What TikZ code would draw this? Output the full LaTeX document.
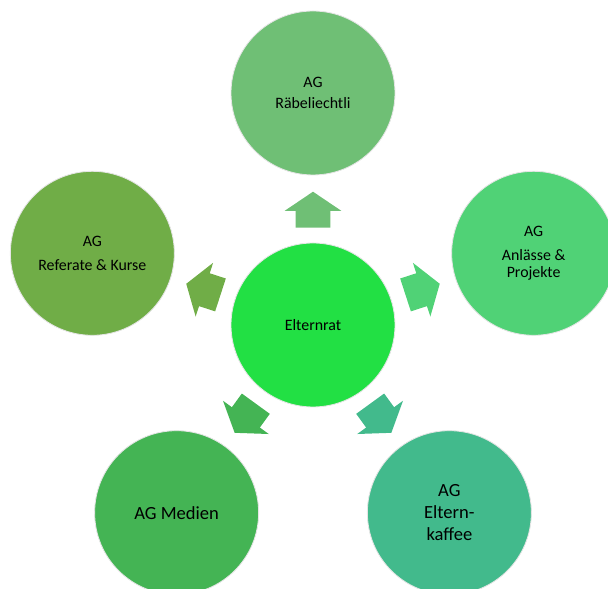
\documentclass[tikz,border=0pt]{standalone}
\usepackage{fontspec}
\setmainfont{Carlito}
\usetikzlibrary{shapes.arrows}
\definecolor{rat}{RGB}{34, 224, 68}
\definecolor{raebe}{RGB}{111, 191, 117}
\definecolor{anlass}{RGB}{80, 210, 118}
\definecolor{kaffee}{RGB}{66, 186, 140}
\definecolor{medien}{RGB}{68, 180, 84}
\definecolor{referat}{RGB}{112, 173, 71}
\tikzset{
  ag/.style={circle, minimum size=4.1cm, inner sep=0, draw=black!10, line width=0.6pt,
    fill=#1, align=center, font=\fontsize{11.3}{14.7}\selectfont},
  gross/.style={font=\fontsize{13.2}{15.4}\selectfont},
  pfeil/.style={single arrow, fill=#1, draw=none, minimum height=0.9cm, minimum width=1.4cm,
    inner xsep=0, inner ysep=0.425cm, single arrow head extend=0.275cm,
    single arrow tip angle=112, anchor=tail},
}
\begin{document}
\begin{tikzpicture}
      \def\R{5.8}
      \def\T{2.425}
      \useasboundingbox (0, 0) rectangle (15.2, 14.725);
      \node[ag=rat] (rat) at (7.825, 6.6) {Elternrat};
      \node[ag=raebe] (raebe) at ([shift={(90:\R)}]rat) {AG\\R\"abeliechtli};
      \node[ag=anlass] (anlass) at ([shift={(18:\R)}]rat) {AG\\[2.5pt]Anl\"asse \&\\[-2.7pt]Projekte};
      \node[ag=kaffee, gross] (kaffee) at ([shift={(306:\R)}]rat) {AG\\Eltern-\\kaffee};
      \node[ag=medien, gross] (medien) at ([shift={(234:\R)}]rat) {AG Medien};
      \node[ag=referat] (referat) at ([shift={(162:\R)}]rat) {AG\\[2.3pt]Referate \& Kurse};
      \foreach \w/\c in {90/raebe, 18/anlass, 306/kaffee, 234/medien, 162/referat} {
        \node[pfeil=\c, rotate=\w] (p\c) at ([shift={(\w:\T)}]rat) {};
      }
    \end{tikzpicture}
\end{document}
